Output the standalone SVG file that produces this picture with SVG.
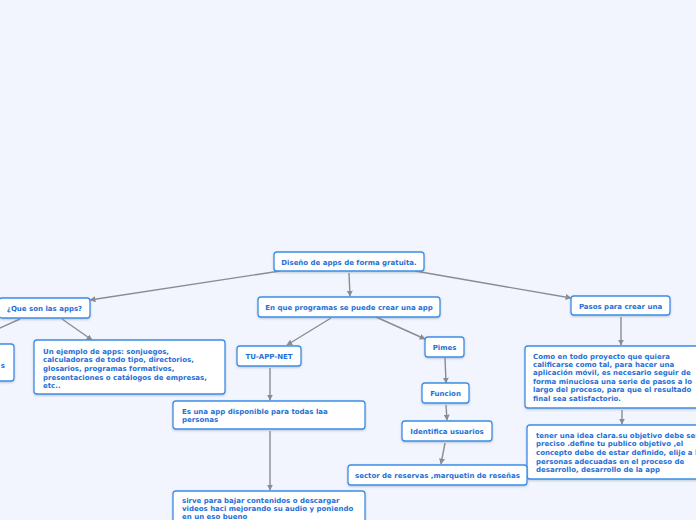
<svg xmlns="http://www.w3.org/2000/svg" width="696" height="520" viewBox="0 0 696 520">
<defs>
<marker id="ah" viewBox="0 0 10 10" refX="9" refY="5" markerWidth="6" markerHeight="6" markerUnits="userSpaceOnUse" orient="auto">
<path d="M0,0 L10,5 L0,10 z" fill="#888c93"/>
</marker>
<filter id="sh" x="-10%" y="-20%" width="120%" height="150%">
<feDropShadow dx="0" dy="1" stdDeviation="0.8" flood-color="#7a8aa8" flood-opacity="0.45"/>
</filter>
</defs>
<style>
.n rect{fill:#ffffff;stroke:#3a8ee8;stroke-width:1.3;filter:url(#sh)}
.n text{font-family:"DejaVu Sans",Verdana,sans-serif;font-weight:bold;font-size:7px;fill:#1f6fd6}
.c{text-anchor:middle}
#edges line{stroke:#888c93;stroke-width:1.4;marker-end:url(#ah)}
</style>
<rect x="0" y="0" width="696" height="520" fill="#f2f5fd"/>
<g id="edges">
<line x1="280" y1="271" x2="90" y2="300"/>
<line x1="349" y1="273" x2="350" y2="296"/>
<line x1="415" y1="271" x2="571" y2="298"/>
<line x1="331" y1="318" x2="287" y2="345"/>
<line x1="376" y1="317" x2="425" y2="339"/>
<line x1="62" y1="319" x2="92" y2="340"/>
<line x1="20" y1="319" x2="-2" y2="329" style="marker-end:none"/>
<line x1="270" y1="368" x2="270" y2="400"/>
<line x1="270" y1="431" x2="270" y2="490"/>
<line x1="445" y1="358" x2="446" y2="383"/>
<line x1="446" y1="405" x2="447" y2="420"/>
<line x1="445" y1="443" x2="441" y2="464"/>
<line x1="621" y1="317" x2="621" y2="345"/>
<line x1="622" y1="410" x2="622" y2="424"/>
</g>
<g id="n-root" class="n"><rect x="274" y="252" width="150" height="19" rx="3"/><text class="c" x="349" y="264.5">Diseño de apps de forma gratuita.</text></g>
<g id="n-programas" class="n"><rect x="258" y="297" width="182" height="20" rx="3"/><text class="c" x="349" y="309.5">En que programas se puede crear una app</text></g>
<g id="n-tuapp" class="n"><rect x="237" y="346" width="64" height="20" rx="3"/><text class="c" x="269" y="358.5">TU-APP-NET</text></g>
<g id="n-pimes" class="n"><rect x="425" y="337" width="39" height="20" rx="3"/><text class="c" x="444.5" y="349.5">Pimes</text></g>
<g id="n-que" class="n"><rect x="-1" y="298" width="91" height="20" rx="3"/><text class="c" x="44.5" y="310.5">¿Que son las apps?</text></g>
<g id="n-ejemplo" class="n"><rect x="34" y="340" width="191" height="54" rx="3"/><text x="43"><tspan x="43" y="353.5">Un ejemplo de apps: sonjuegos,</tspan><tspan x="43" y="362.2">calculadoras de todo tipo, directorios,</tspan><tspan x="43" y="370.9">glosarios, programas formativos,</tspan><tspan x="43" y="379.6">presentaciones o catálogos de empresas,</tspan><tspan x="43" y="388.3">etc..</tspan></text></g>
<g id="n-left" class="n"><rect x="-60" y="344" width="74" height="37" rx="3"/><text x="5" y="367.5" style="text-anchor:end">s</text></g>
<g id="n-pasos" class="n"><rect x="571" y="296" width="99" height="19" rx="3"/><text class="c" x="620.5" y="308.5">Pasos para crear una</text></g>
<g id="n-como" class="n"><rect x="525" y="346" width="180" height="62" rx="3"/><text><tspan x="533" y="358.5">Como en todo proyecto que quiera</tspan><tspan x="533" y="366.9">calificarse como tal, para hacer una</tspan><tspan x="533" y="375.3">aplicación móvil, es necesario seguir de</tspan><tspan x="533" y="383.7">forma minuciosa una serie de pasos a lo</tspan><tspan x="533" y="392.1">largo del proceso, para que el resultado</tspan><tspan x="533" y="400.5">final sea satisfactorio.</tspan></text></g>
<g id="n-tener" class="n"><rect x="527" y="425" width="180" height="54" rx="3"/><text><tspan x="536" y="437.5">tener una idea clara.su objetivo debe ser</tspan><tspan x="536" y="446.2">preciso .define tu publico objetivo ,el</tspan><tspan x="536" y="454.9">concepto debe de estar definido, elije  a l</tspan><tspan x="536" y="463.6">personas adecuadas en el proceso de</tspan><tspan x="536" y="472.3">desarrollo, desarrollo de la app</tspan></text></g>
<g id="n-esuna" class="n"><rect x="173" y="401" width="192" height="28" rx="3"/><text><tspan x="182" y="413.5">Es una app disponible para todas laa</tspan><tspan x="182" y="422.2">personas</tspan></text></g>
<g id="n-sirve" class="n"><rect x="173" y="491" width="192" height="40" rx="3"/><text><tspan x="182" y="502.5">sirve para bajar contenidos o descargar</tspan><tspan x="182" y="510.9">videos haci mejorando su audio y poniendo</tspan><tspan x="182" y="519.3">en un eso bueno</tspan></text></g>
<g id="n-funcion" class="n"><rect x="422" y="383" width="47" height="20" rx="3"/><text class="c" x="445.5" y="395.5">Funcion</text></g>
<g id="n-identifica" class="n"><rect x="402" y="421" width="90" height="20" rx="3"/><text class="c" x="447" y="433.5">Identifica usuarios</text></g>
<g id="n-sector" class="n"><rect x="348" y="465" width="179" height="20" rx="3"/><text class="c" x="437.5" y="477.5">sector de reservas ,marquetin de reseñas</text></g>
</svg>
